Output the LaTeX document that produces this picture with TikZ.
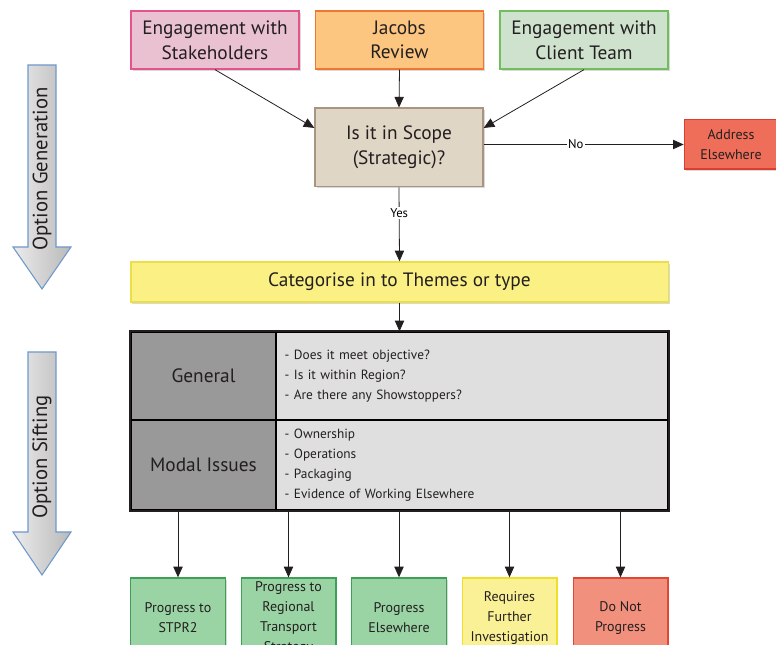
\documentclass[tikz,border=0pt]{standalone}
\usepackage{fontspec}
\setmainfont{PT Sans}
\usetikzlibrary{arrows.meta, positioning, shadows}
\definecolor{inkgray}{RGB}{35,31,32}
\definecolor{stakepink}{RGB}{234,193,208}
\definecolor{stakeline}{RGB}{226,84,140}
\definecolor{jacorange}{RGB}{252,198,128}
\definecolor{jacline}{RGB}{240,118,52}
\definecolor{clientgreen}{RGB}{206,226,206}
\definecolor{clientline}{RGB}{112,190,92}
\definecolor{scopetan}{RGB}{224,214,198}
\definecolor{scopeline}{RGB}{168,148,128}
\definecolor{alarmred}{RGB}{239,110,90}
\definecolor{alarmline}{RGB}{218,62,48}
\definecolor{themeyellow}{RGB}{250,240,132}
\definecolor{themeline}{RGB}{236,222,70}
\definecolor{passgreen}{RGB}{154,212,164}
\definecolor{passline}{RGB}{62,160,86}
\definecolor{holdyellow}{RGB}{250,240,150}
\definecolor{holdline}{RGB}{240,222,40}
\definecolor{stopred}{RGB}{241,144,124}
\definecolor{stopline}{RGB}{222,72,52}
\definecolor{sideblue}{RGB}{110,152,204}

\begin{document}
\begin{tikzpicture}[x=0.75pt, y=-0.75pt,
  box/.style={rectangle, draw, line width=1pt, align=center, text=inkgray, inner sep=2pt,
    drop shadow={shadow xshift=1.2pt, shadow yshift=-1.2pt, opacity=0.3}},
  big/.style={font=\fontsize{14.5}{18.5}\selectfont},
  small/.style={font=\fontsize{10}{15}\selectfont},
  tag/.style={fill=white, inner sep=1pt, font=\fontsize{9.5}{11}\selectfont},
  flow/.style={-{Triangle[length=8pt,width=7pt]}, line width=0.6pt, draw=inkgray},
  sidearrow/.style={draw=sideblue, line width=0.8pt, left color=gray!15, right color=gray!55},
  outcome/.style={box, font=\fontsize{10.5}{15}\selectfont, minimum width=71pt, minimum height=60pt}]
\clip (0,0) rectangle (776,645);

% Inputs
\node[box, big, draw=stakeline, fill=stakepink, minimum width=126pt, minimum height=43.5pt] (stake) at (215,40) {Engagement with\\Stakeholders};
\node[box, big, draw=jacline, fill=jacorange, minimum width=126pt, minimum height=43.5pt] (jacobs) at (399.5,40) {Jacobs\\Review};
\node[box, big, draw=clientline, fill=clientgreen, minimum width=126pt, minimum height=43.5pt] (client) at (584,40) {Engagement with\\Client Team};

% Scope decision
\node[box, big, draw=scopeline, fill=scopetan, minimum width=126pt, minimum height=59pt] (scope) at (399,147.5) {Is it in Scope\\(Strategic)?};
\node[box, font=\fontsize{10.5}{15}\selectfont, draw=alarmline, fill=alarmred, minimum width=70pt, minimum height=37pt] (addr) at (731,144.5) {Address\\Elsewhere};

% Themes
\node[box, big, draw=themeline, fill=themeyellow, minimum width=403pt, minimum height=30pt] (theme) at (399.5,282) {Categorise in to Themes or type};

% Sifting table
\node[box, big, fill=gray!80, minimum width=108.75pt, minimum height=66pt] (gen) at (203.5,376) {General};
\node[box, small, fill=gray!25, minimum width=294pt, minimum height=66pt, text width=281pt, inner xsep=6.5pt, align=left] (genR) at (472,376) {- Does it meet objective?\\- Is it within Region?\\- Are there any Showstoppers?};
\node[box, big, fill=gray!80, minimum width=108.75pt, minimum height=67.5pt] (modal) at (203.5,465) {Modal Issues};
\node[box, small, fill=gray!25, minimum width=294pt, minimum height=67.5pt, text width=281pt, inner xsep=6.5pt, align=left] (modalR) at (472,465) {- Ownership\\- Operations\\- Packaging\\- Evidence of Working Elsewhere};
\draw[line width=1.5pt, inkgray] (gen.north west) rectangle (modalR.south east);

% Outcomes
\node[outcome, draw=passline, fill=passgreen] (stpr) at (178,618) {Progress to\\STPR2};
\node[outcome, draw=passline, fill=passgreen] (rts) at (288.5,618) {Progress to\\Regional\\Transport\\Strategy};
\node[outcome, draw=passline, fill=passgreen] (else) at (399,618) {Progress\\Elsewhere};
\node[outcome, draw=holdline, fill=holdyellow] (further) at (509.5,618) {Requires\\Further\\Investigation};
\node[outcome, draw=stopline, fill=stopred] (stop) at (620.5,618) {Do Not\\Progress};

% Connections
\draw[flow] (stake.south) -- (scope.167);
\draw[flow] (jacobs.south) -- (scope.north);
\draw[flow] (client.south) -- (scope.13);
\draw[flow] (scope.east |- addr.west) -- node[pos=0.46, tag]{No} (addr.west);
\draw[flow] (scope.south) -- node[pos=0.35, tag]{Yes} (theme.north);
\draw[flow] (theme.south) -- (genR.north -| theme.south);
\foreach \n in {stpr, rts, else, further, stop}
  \draw[flow] (\n.north |- modalR.south) -- (\n.north);

% Side arrows
\draw[sidearrow] (28,65) -- (56,65) -- (56,247) -- (71,247) -- (42,289) -- (13,247) -- (28,247) -- cycle;
\node[font=\fontsize{15.5}{18}\selectfont, rotate=90, text=inkgray] (gentext) at (42,169) {Option Generation};
\draw[sidearrow] (28,352) -- (56,352) -- (56,532) -- (71,532) -- (42,575) -- (13,532) -- (28,532) -- cycle;
\node[font=\fontsize{15.5}{18}\selectfont, rotate=90, text=inkgray] (siftext) at (42,457) {Option Sifting};
\end{tikzpicture}
\end{document}
